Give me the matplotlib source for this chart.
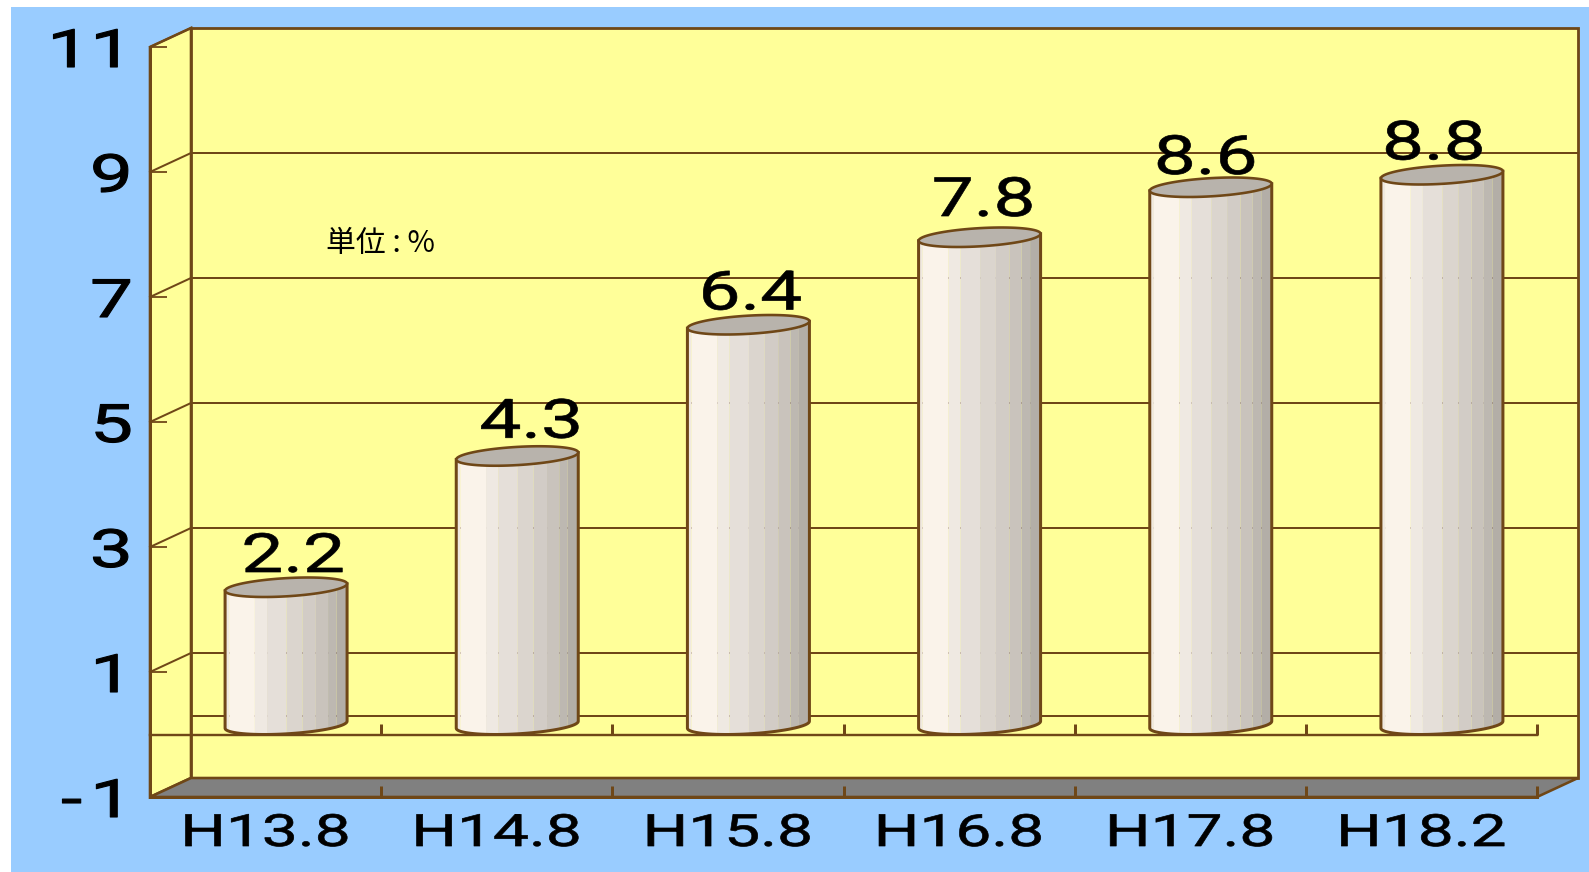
import numpy as np
import matplotlib
matplotlib.use("Agg")
import matplotlib.pyplot as plt
from matplotlib.patches import Polygon, Rectangle
from matplotlib.patheffects import AbstractPathEffect
from matplotlib.transforms import Affine2D

categories = ["H13.8", "H14.8", "H15.8", "H16.8", "H17.8", "H18.2"]
values = [2.2, 4.3, 6.4, 7.8, 8.6, 8.8]
y_ticks = [-1, 1, 3, 5, 7, 9, 11]
y_tick_labels = ["-\u200a1", "1", "3", "5", "7", "9", "11"]
unit_label = "単位 : %"

# value-label nudges in pixels (the reference places them unevenly)
label_nudge_x = [7, 14, 2, 4, -5, -8]
label_nudge_y = [0, 3, 0, 6, -2, 0]

BLUE = "#99ccff"
YELLOW = "#ffff99"
BROWN = "#6f4717"
FLOOR = "#808080"
TOP = "#b8b3ac"
band_edges = [0, .03, .24, .34, .5, .63, .74, .84, .91, 1]
band_colors = ["#f0e9e0", "#faf3ea", "#efe9e2", "#e5dfd9", "#dbd5ce",
               "#d2ccc6", "#c9c3bc", "#bdb8b1", "#b3aea7"]

W, H = 1589, 872
PX = 0.72  # points per pixel at dpi 100
plt.rcParams['font.family'] = ['Roboto', 'Liberation Sans', 'Noto Sans CJK JP', 'DejaVu Sans']


class Stretch(AbstractPathEffect):
    """Widen a text about its anchor (the reference font is stretched)."""
    def __init__(self, sx, artist, stroke=0.0):
        super().__init__()
        self.sx, self.artist, self.stroke = sx, artist, stroke

    def draw_path(self, renderer, gc, tpath, affine, rgbFace=None):
        a = self.artist
        cx = a.get_transform().transform(a.get_unitless_position())[0]
        aff = affine + Affine2D().translate(-cx, 0).scale(self.sx, 1).translate(cx, 0)
        gc0 = renderer.new_gc()
        gc0.copy_properties(gc)
        gc0.set_linewidth(self.stroke)
        gc0.set_foreground(rgbFace)
        renderer.draw_path(gc0, tpath, aff, rgbFace)
        gc0.restore()


fig = plt.figure(figsize=(W / 100, H / 100), dpi=100, facecolor="white")
fig.add_artist(Rectangle((11 / W, 0), 1 - 11 / W, 1 - 7 / H, transform=fig.transFigure,
                         facecolor=BLUE, edgecolor="none", zorder=-10))
ax = fig.add_axes([150 / W, (H - 797) / H, 1387 / W, 750 / H])
ax.set_xlim(0, 6)
ax.set_ylim(-1, 11)
ax.patch.set_visible(False)
ax.set_axisbelow(False)

n = len(categories)
ymin, ymax = y_ticks[0], y_ticks[-1]
px_x = 1387 / 6        # pixels per x unit
px_y = 62.5            # pixels per y unit
dx = 41 / px_x         # depth offset, x units
dy = 19 / px_y         # depth offset, y units

# walls and floor
ax.add_patch(Polygon([(0, ymin), (dx, ymin + dy), (dx, ymax + dy), (0, ymax)], closed=True,
                     facecolor=YELLOW, edgecolor=BROWN, lw=2.6 * PX, clip_on=False, zorder=1))
ax.add_patch(Rectangle((dx, ymin + dy), n, ymax - ymin, facecolor=YELLOW, edgecolor=BROWN,
                       lw=2.8 * PX, clip_on=False, zorder=1))
ax.add_patch(Polygon([(0, ymin), (n, ymin), (n + dx, ymin + dy), (dx, ymin + dy)], closed=True,
                     facecolor=FLOOR, edgecolor=BROWN, lw=2.6 * PX, clip_on=False, zorder=2))

# gridlines on the back wall + side-wall diagonals
for v in y_ticks + [0]:
    if ymin < v < ymax:
        ax.plot([dx, n + dx], [v + dy, v + dy], color=BROWN, lw=2.0 * PX, clip_on=False, zorder=1.5)
    if v != 0 and v != ymin:
        ax.plot([0, dx], [v, v + dy], color=BROWN, lw=2.0 * PX, clip_on=False, zorder=1.5)

# plane at zero
ax.plot([0, n], [0, 0], color=BROWN, lw=2.4 * PX, clip_on=False, zorder=2)
ax.vlines(range(0, n + 1), 0, 11 / px_y, color=BROWN, lw=3 * PX, zorder=2, clip_on=False)

# axes furniture
for s in ("top", "right"):
    ax.spines[s].set_visible(False)
for s in ("left", "bottom"):
    ax.spines[s].set_color(BROWN)
    ax.spines[s].set_linewidth(3 * PX)
    ax.spines[s].set_zorder(4)
ax.set_yticks(y_ticks, y_tick_labels)
ax.tick_params(axis="y", direction="in", length=17 * PX, width=1.8 * PX, color=BROWN,
               labelsize=38, pad=17 * PX)
ax.set_xticks(range(n + 1), [""] * (n + 1))
ax.tick_params(axis="x", which="major", direction="in", length=11 * PX, width=3 * PX, color=BROWN)
ax.set_xticks(np.arange(n) + 0.5, categories, minor=True)
ax.tick_params(axis="x", which="minor", length=0, labelsize=32, pad=16 * PX)
for lab in ax.get_yticklabels():
    lab.set_path_effects([Stretch(1.45, lab, 0.8)])
for lab in ax.get_xticklabels(minor=True):
    lab.set_path_effects([Stretch(1.44, lab, 0.5)])

# cylinders
half_w = 61 / px_x
ell_b = 9.1 / px_y
ell_s = 3.5 / px_y
ell_amp = np.hypot(ell_b, ell_s)


def ellipse(cx, base, t):
    return cx + half_w * np.cos(t), base + ell_amp + ell_b * np.sin(t) + ell_s * np.cos(t)


t_low = np.linspace(np.pi, 2 * np.pi, 41)
t_all = np.linspace(0, 2 * np.pi, 81)
for i, v in enumerate(values):
    cx = i + 0.5 + dx / 2
    xl, yl = ellipse(cx, 0, t_low)
    xt, yt = ellipse(cx, v, t_low)
    for k, col in enumerate(band_colors):
        xs = np.linspace(cx - half_w + 2 * half_w * band_edges[k],
                         cx - half_w + 2 * half_w * band_edges[k + 1], 12)
        ax.fill_between(xs, np.interp(xs, xl, yl), np.interp(xs, xt, yt), color=col, lw=0,
                        clip_on=False, zorder=3)
    outline = np.r_[np.c_[xt[:1], yt[:1]], np.c_[xl, yl], np.c_[xt[-1:], yt[-1:]]]
    ax.plot(outline[:, 0], outline[:, 1], color=BROWN, lw=3 * PX, clip_on=False, zorder=3.2)
    xe, ye = ellipse(cx, v, t_all)
    ax.fill(xe, ye, facecolor=TOP, edgecolor=BROWN, lw=2.6 * PX, clip_on=False, zorder=3.3)
    # value label
    tx = ax.text(cx + label_nudge_x[i] / px_x, v + (25 + label_nudge_y[i]) / px_y, f"{v:.1f}",
                 fontsize=39, ha="center", va="baseline", color="black", zorder=5, clip_on=False)
    tx.set_path_effects([Stretch(1.38, tx, 0.5)])

ax.text((326 - 150) / px_x, 11 - (252 - 47) / px_y, unit_label, fontsize=21.5, ha="left",
        va="baseline", color="black", zorder=5,
        family=['Noto Sans CJK JP', 'Liberation Sans'])

fig.savefig("out.png", dpi=100, facecolor="white")
